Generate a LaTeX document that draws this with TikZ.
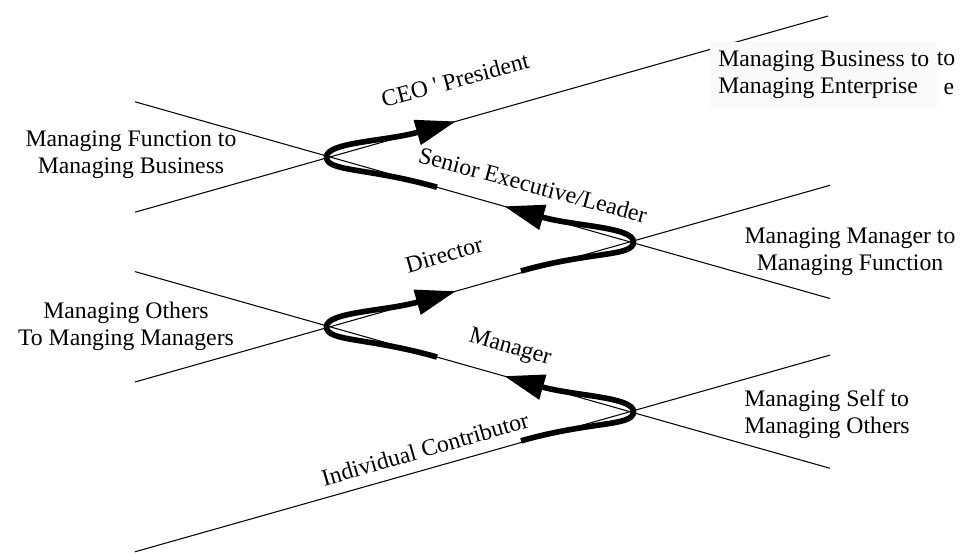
\documentclass[tikz,border=0pt]{standalone}
\usepackage{fontspec}
\setmainfont{Liberation Serif}
\usetikzlibrary{arrows.meta}

\tikzset{
    thinline/.style={line width=0.6pt},
    turn/.style={line width=3.2pt, -{Triangle[length=23pt,width=14pt]}},
    lbl/.style={font=\fontsize{13.5}{15.5}\selectfont, inner sep=1pt}
}

\begin{document}
\begin{tikzpicture}
    \useasboundingbox (0,0) rectangle (19.24,11.14);

    % Crossing points
    \coordinate (X1) at (6.6,8.0);
    \coordinate (X2) at (12.6,6.302);
    \coordinate (X3) at (6.6,4.604);
    \coordinate (X4) at (12.6,2.906);

    % Line ends
    \coordinate (eL) at (2.7,6.896);
    \coordinate (eR) at (16.56,10.819);
    \coordinate (dL) at (2.7,9.104);
    \coordinate (dR) at (16.6,5.17);
    \coordinate (cL) at (2.7,3.5);
    \coordinate (cR) at (16.6,7.434);
    \coordinate (bL) at (2.7,5.708);
    \coordinate (bR) at (16.6,1.774);
    \coordinate (aL) at (2.7,0.104);
    \coordinate (aR) at (16.6,4.038);

    % The five lines
    \draw[thinline] (eL) -- (X1) -- (eR);
    \draw[thinline] (dL) -- (X1) -- (X2) -- (dR);
    \draw[thinline] (cL) -- (X3) -- (X2) -- (cR);
    \draw[thinline] (bL) -- (X3) -- (X4) -- (bR);
    \draw[thinline] (aL) -- (X4) -- (aR);

    % Turns at the crossings
    \coordinate (s1) at (8.74,7.395);
    \coordinate (t1) at (9.12,8.713);
    \coordinate (s2) at (10.42,5.72);
    \coordinate (t2) at (10.08,7.015);
    \coordinate (s3) at (8.74,3.999);
    \coordinate (t3) at (9.12,5.317);
    \coordinate (s4) at (10.42,2.323);
    \coordinate (t4) at (10.08,3.619);

    \draw[turn] (s1) .. controls +(-1.4,0.4) and +(0,-0.3) .. ([xshift=-2pt]X1)
        .. controls +(0,0.3) and +(-1.4,-0.4) .. (t1);
    \draw[turn] (s2) .. controls +(1.4,0.4) and +(0,-0.3) .. ([xshift=2pt]X2)
        .. controls +(0,0.3) and +(1.4,-0.4) .. (t2);
    \draw[turn] (s3) .. controls +(-1.4,0.4) and +(0,-0.3) .. ([xshift=-2pt]X3)
        .. controls +(0,0.3) and +(-1.4,-0.4) .. (t3);
    \draw[turn] (s4) .. controls +(1.4,0.4) and +(0,-0.3) .. ([xshift=2pt]X4)
        .. controls +(0,0.3) and +(1.4,-0.4) .. (t4);

    % Labels along the lines
    \node[lbl, rotate=15] (ceo) at (9.1,9.54) {CEO \textquotesingle\ President};
    \node[lbl, rotate=-15] (senior) at (10.66,7.44) {Senior Executive/Leader};
    \node[lbl, rotate=16] (director) at (8.88,6.04) {Director};
    \node[lbl, rotate=-16] (manager) at (10.2,4.18) {Manager};
    \node[lbl, rotate=16] (indiv) at (8.5,2.16) {Individual Contributor};

    % Transition labels
    \node[lbl, align=center] (funcbus) at (2.62,8.04) {Managing Function to\\Managing Business};
    \node[lbl, align=center] (othman) at (2.52,4.62) {Managing Others\\To Manging Managers};
    \node[lbl, align=center] (manfunc) at (17.0,6.1) {Managing Manager to\\Managing Function};
    \node[lbl, align=left] (selfoth) at (16.54,2.86) {Managing Self to\\Managing Others};
    \node[lbl, align=left, anchor=west, fill=black!2, inner xsep=0.16cm,
        minimum height=1.32cm] (busent) at (14.2,9.64) {Managing Business to\\Managing Enterprise};
    \node[lbl] (strayto) at (18.92,9.96) {to};
    \node[lbl] (straye) at (18.98,9.36) {e};
\end{tikzpicture}
\end{document}
